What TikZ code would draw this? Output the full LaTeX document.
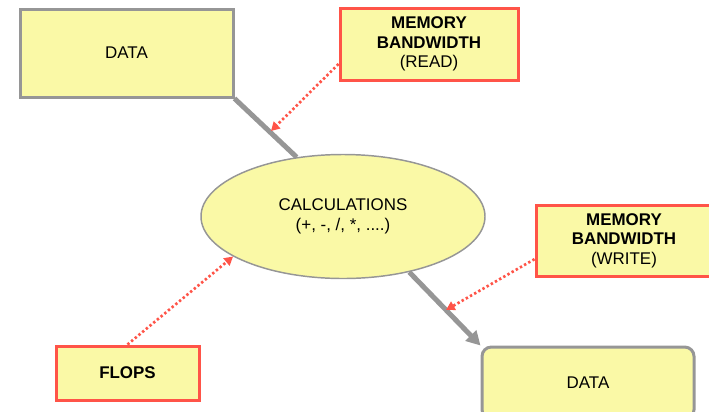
\documentclass[tikz,border=0pt]{standalone}
\usepackage{fontspec}
\setmainfont{Liberation Sans}
\usetikzlibrary{arrows.meta, shapes.geometric}

\definecolor{vang}{RGB}{250,249,166}
\definecolor{xam}{RGB}{150,150,150}
\definecolor{dored}{RGB}{255,84,72}

\tikzset{
    hop/.style={draw=xam, line width=2.25pt, fill=vang, inner sep=0pt, align=center,
        font=\fontsize{12.7}{14.6}\selectfont},
    hopdo/.style={hop, draw=dored},
    luong/.style={xam, line width=3.75pt},
    chiphi/.style={dored, line width=2pt, dash pattern=on 1.8pt off 1.8pt,
        -{Triangle[length=6.5pt, width=7pt]}}
}

\begin{document}
\begin{tikzpicture}[x=0.75pt, y=-0.75pt]
    \useasboundingbox (0,0) rectangle (709,411);

    % Các khối dữ liệu
    \node[hop, minimum width=159.75pt, minimum height=66pt] (din) at (126.5,53) {DATA};
    \node[hop, rounded corners=7pt, minimum width=159pt, minimum height=54pt] (dout) at (588,383) {DATA};

    % Khối tính toán
    \node[hop, ellipse, line width=1.1pt, minimum width=213pt, minimum height=93pt,
        font=\fontsize{12.7}{15.5}\selectfont] (calc) at (343,216.5)
        {CALCULATIONS\\(+, -, /, *, ....)};

    % Các giới hạn
    \node[hopdo, minimum width=133.5pt, minimum height=54pt] (mr) at (429,44)
        {\textbf{MEMORY}\\\textbf{BANDWIDTH}\\(READ)};
    \node[hopdo, minimum width=132pt, minimum height=53.25pt] (mw) at (624,240.5)
        {\textbf{MEMORY}\\\textbf{BANDWIDTH}\\(WRITE)};
    \node[hopdo, minimum width=107.25pt, minimum height=40.5pt] (flops) at (127.5,373)
        {\textbf{FLOPS}};

    % Luồng dữ liệu
    \draw[luong] (din.south east) -- (calc.128);
    \draw[luong, -{Triangle[length=10.5pt, width=11pt]}] (calc.-40) -- (dout.north west);

    % Mũi tên chấm đỏ
    \coordinate (rd) at (271,131);
    \coordinate (wr) at (446,310);
    \draw[chiphi] ([yshift=-15pt]mr.west) -- (rd);
    \draw[chiphi] ([yshift=-14pt]mw.west) -- (wr);
    \draw[chiphi] (flops.north) -- (calc.200);
\end{tikzpicture}
\end{document}
